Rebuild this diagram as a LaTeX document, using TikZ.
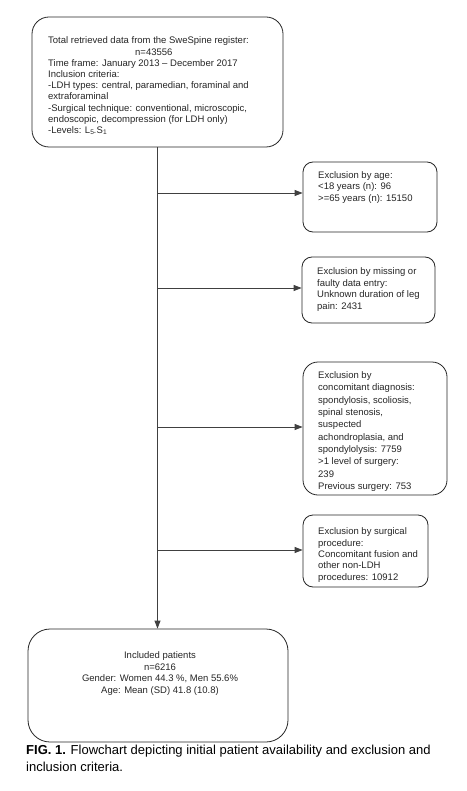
\documentclass[tikz,border=0pt]{standalone}
\usepackage{fontspec}
\setmainfont{Liberation Sans}
\usetikzlibrary{arrows.meta}
\begin{document}
\begin{tikzpicture}[x=1pt,y=-1pt,
  box/.style={draw=black!85,line width=0.8pt,rounded corners=#1,inner sep=0pt},
  box/.default=10pt,
  txt/.style={inner sep=0pt,align=left,anchor=west,text=black!85},
  arr/.style={draw=black!75,line width=0.8pt,-{Triangle[length=8pt,width=6pt]}}]
\useasboundingbox (0,0) rectangle (466,791);
\fill[white] (0,0) rectangle (466,791);
% boxes
\node[box=17pt,minimum width=251pt,minimum height=130pt] (b1) at (157.5,82) {};
\node[box,minimum width=134pt,minimum height=70pt] (b2) at (370,197) {};
\node[box,minimum width=133pt,minimum height=66pt] (b3) at (368.5,290) {};
\node[box=15pt,minimum width=144pt,minimum height=133pt] (b4) at (375,428.5) {};
\node[box,minimum width=125pt,minimum height=72pt] (b5) at (365.5,551) {};
\node[box=22pt,minimum width=260pt,minimum height=113pt] (b6) at (158,685.5) {};
% texts
\node[txt,font=\fontsize{9.5}{11.2}\selectfont] (t1) at (48,86) {Total retrieved data from the SweSpine register:\\
\hspace*{87pt}n=43556\\
Time frame: January 2013 -- December 2017\\
Inclusion criteria:\\
-LDH types: central, paramedian, foraminal and\\
extraforaminal\\
-Surgical technique: conventional, microscopic,\\
endoscopic, decompression (for LDH only)\\
-Levels: L\textsubscript{5-}S\textsubscript{1}};
\node[txt,font=\fontsize{9.5}{11.7}\selectfont] (t2) at (318,187.5) {Exclusion by age:\\
<18 years (n): 96\\
>=65 years (n): 15150};
\node[txt,font=\fontsize{9.5}{11.7}\selectfont] (t3) at (317,289.5) {Exclusion by missing or\\
faulty data entry:\\
Unknown duration of leg\\
pain: 2431};
\node[txt,font=\fontsize{9.5}{12.3}\selectfont] (t4) at (318,431.5) {Exclusion by\\
concomitant diagnosis:\\
spondylosis, scoliosis,\\
spinal stenosis,\\
suspected\\
achondroplasia, and\\
spondylolysis: 7759\\
>1 level of surgery:\\
239\\
Previous surgery: 753};
\node[txt,font=\fontsize{9.5}{11.3}\selectfont] (t5) at (318,555) {Exclusion by surgical\\
procedure:\\
Concomitant fusion and\\
other non-LDH\\
procedures: 10912};
\node[txt,align=center,anchor=center,font=\fontsize{9.5}{11.5}\selectfont] (t6) at (160,673.5) {Included patients\\
n=6216\\
Gender: Women 44.3 \%, Men 55.6\%\\
Age: Mean (SD) 41.8 (10.8)};
% connectors
\coordinate (j1) at (157.5,193);
\coordinate (j2) at (157.5,288);
\coordinate (j3) at (157.5,427);
\coordinate (j4) at (157.5,550);
\draw[arr] (b1.south) -- (b1.south |- b6.north);
\draw[arr] (j1) -- (j1 -| b2.west);
\draw[arr] (j2) -- (j2 -| b3.west);
\draw[arr] (j3) -- (j3 -| b4.west);
\draw[arr] (j4) -- (j4 -| b5.west);
% caption
\node[inner sep=0pt,anchor=base west,align=left,font=\fontsize{13}{17}\selectfont] (cap) at (26,771) {\textbf{FIG. 1.} Flowchart depicting initial patient availability and exclusion and\\
inclusion criteria.};
\end{tikzpicture}
\end{document}
